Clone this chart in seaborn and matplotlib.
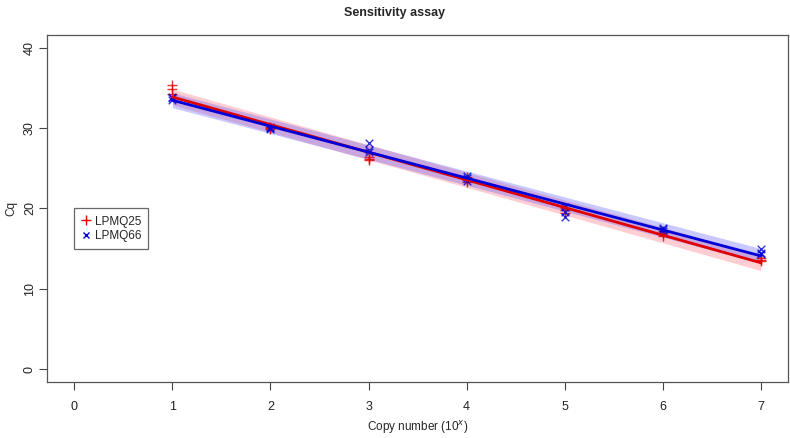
import numpy as np
import pandas as pd
import matplotlib
matplotlib.use('Agg')
import matplotlib.pyplot as plt
from matplotlib.lines import Line2D
import seaborn as sns

# copy number exponent, three replicates per dilution
copies = [1, 1, 1, 2, 2, 2, 3, 3, 3, 4, 4, 4, 5, 5, 5, 6, 6, 6, 7, 7, 7]
cq_lpmq25 = [35.4, 34.9, 34.2, 30.2, 30.0, 29.9, 26.0, 26.2, 26.4,
             23.3, 23.6, 23.9, 19.8, 19.5, 20.0, 16.9, 17.2, 16.6,
             13.5, 13.8, 13.6]
cq_lpmq66 = [33.9, 33.5, 33.7, 30.1, 29.9, 30.0, 28.2, 27.0, 27.3,
             24.0, 23.4, 23.8, 20.2, 19.0, 19.6, 17.6, 17.2, 17.4,
             15.0, 14.3, 14.5]
x_ticks = [0, 1, 2, 3, 4, 5, 6, 7]
y_ticks = [0, 10, 20, 30, 40]

df25 = pd.DataFrame({'copies': copies, 'cq': cq_lpmq25})
df66 = pd.DataFrame({'copies': copies, 'cq': cq_lpmq66})

sns.set_style('white')
plt.rcParams['font.family'] = ['Liberation Sans', 'DejaVu Sans']

fig = plt.figure(figsize=(7.9, 4.38), dpi=100)
ax = fig.add_axes([0.0595, 0.128, 0.938, 0.792])


def pred_band(d, color):
    # prediction band of the linear fit
    x = d['copies'].to_numpy(float)
    y = d['cq'].to_numpy(float)
    b, a = np.polyfit(x, y, 1)
    res = y - (a + b * x)
    n = len(x)
    s = np.sqrt((res ** 2).sum() / (n - 2))
    xs = np.linspace(x.min(), x.max(), 100)
    se = s * np.sqrt(1 + 1 / n + (xs - x.mean()) ** 2 / ((x - x.mean()) ** 2).sum())
    yh = a + b * xs
    ax.fill_between(xs, yh - 1.45 * se, yh + 1.45 * se, color=color, alpha=0.28,
                    linewidth=0)


pred_band(df25, '#ff5060')
pred_band(df66, '#4040ff')

sns.regplot(data=df25, x='copies', y='cq', ax=ax, ci=None, color='#e00000',
            marker='+', scatter_kws={'s': 45, 'linewidths': 1.0},
            line_kws={'linewidth': 2.0})
sns.regplot(data=df66, x='copies', y='cq', ax=ax, ci=None, color='#0000d8',
            marker='x', scatter_kws={'s': 30, 'linewidths': 1.0},
            line_kws={'linewidth': 2.0})

ax.set_xlim(-0.28, 7.28)
ax.set_ylim(-1.6, 41.6)
ax.set_xticks(x_ticks)
ax.set_yticks(y_ticks)
ax.set_xticklabels([str(v) for v in x_ticks], fontsize=9, color='#222222')
ax.set_yticklabels([str(v) for v in y_ticks], fontsize=9, color='#222222',
                   rotation=90, va='center')
ax.tick_params(axis='x', direction='out', length=6, width=0.8,
               color='#444444', pad=8, bottom=True)
ax.tick_params(axis='y', direction='out', length=6, width=0.8,
               color='#444444', pad=2, left=True)
for s in ax.spines.values():
    s.set_color('#555555')
    s.set_linewidth(0.9)

ax.set_xlabel('Copy number (10$^x$)', fontsize=8.5, labelpad=4)
ax.set_ylabel('Cq', fontsize=8.5, labelpad=5)
fig.suptitle('Sensitivity assay', fontsize=9, fontweight='bold', y=0.985)

handles = [Line2D([], [], color='#e00000', marker='+', linestyle='none', markersize=7),
           Line2D([], [], color='#0000d8', marker='x', linestyle='none', markersize=5)]
leg = ax.legend(handles, ['LPMQ25', 'LPMQ66'], loc='upper left',
                bbox_to_anchor=(0, 20), bbox_transform=ax.transData,
                fontsize=8.5, frameon=True, fancybox=False, borderaxespad=0,
                handletextpad=0.3, handlelength=0.8, borderpad=0.6,
                labelspacing=0.2)
leg.get_frame().set_edgecolor('#444444')
leg.get_frame().set_linewidth(0.9)

fig.savefig('out.png', dpi=100)
